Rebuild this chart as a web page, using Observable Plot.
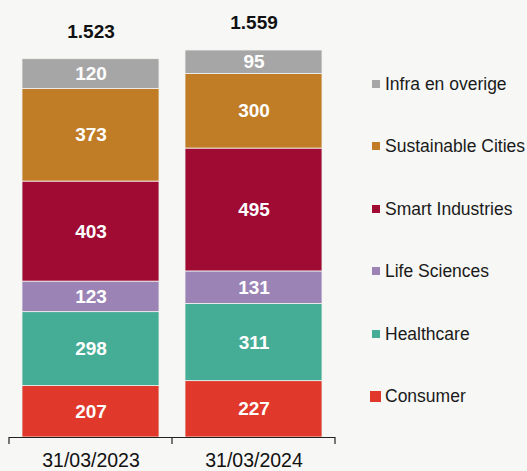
<!DOCTYPE html>
<html><head><meta charset="utf-8">
<script src="https://cdn.jsdelivr.net/npm/d3@7"></script>
<script src="https://cdn.jsdelivr.net/npm/@observablehq/plot@0.6"></script>
<style>
html,body{margin:0;padding:0;background:#f7f7f5;}
#wrap{position:relative;width:527px;height:471px;font-family:"Liberation Sans",Arial,sans-serif;}
#legend{position:absolute;left:370px;top:72px;}
.item{height:62.4px;display:flex;align-items:flex-start;font-size:17.5px;color:#1a1a1a;line-height:24px;}
.sw{width:8px;height:8px;margin:8px 5px 0 2px;flex:none;}
.sw.big{width:11px;height:11px;margin:7px 4px 0 0;}
</style></head>
<body><div id="wrap"><div id="chart"></div><div id="legend"></div></div>
<script>
const dates = ["31/03/2023", "31/03/2024"];
const segments = ["Consumer", "Healthcare", "Life Sciences", "Smart Industries", "Sustainable Cities", "Infra en overige"];
const colors = ["#e0382a", "#45ad96", "#9b84b5", "#a00b34", "#c07d26", "#a6a6a6"];
const values2023 = [207, 298, 123, 403, 373, 120];
const values2024 = [227, 311, 131, 495, 300, 95];
const totals = [1523, 1559];

const rows = [];
segments.forEach((s, i) => {
  rows.push({date: dates[0], segment: s, value: values2023[i]});
  rows.push({date: dates[1], segment: s, value: values2024[i]});
});
const totalRows = dates.map((d, i) => ({date: d, total: totals[i]}));
const fmtTotal = v => d3.format(",")(v).replace(/,/g, ".");

function axisFrame(index, scales) {
  const x = scales.x, y = scales.y;
  const bw = typeof x.bandwidth === "function" ? x.bandwidth() : x.bandwidth;
  const step = x(dates[1]) - x(dates[0]);
  const gap = step - bw;
  const y0 = y(0);
  const xs = dates.map(d => x(d) - gap / 2);
  xs.push(x(dates[dates.length - 1]) + bw + gap / 2);
  const g = d3.create("svg:g").attr("stroke", "#222").attr("stroke-width", 1.2);
  g.append("line").attr("x1", xs[0]).attr("x2", xs[xs.length - 1]).attr("y1", y0 + 0.5).attr("y2", y0 + 0.5);
  xs.forEach(v => g.append("line").attr("x1", v).attr("x2", v).attr("y1", y0).attr("y2", y0 + 7));
  return g.node();
}

const chart = Plot.plot({
  width: 527,
  height: 471,
  marginLeft: 9,
  marginRight: 192,
  marginTop: 50,
  marginBottom: 34,
  style: {background: "#f7f7f5", fontFamily: "Liberation Sans, Arial, sans-serif"},
  x: {domain: dates, paddingInner: 0.16, paddingOuter: 0.08, label: null},
  y: {domain: [0, 1559], axis: null},
  color: {domain: segments, range: colors},
  marks: [
    Plot.barY(rows, {x: "date", y: "value", fill: "segment", stroke: "#f3f3f0", strokeWidth: 0.8}),
    Plot.text(rows, Plot.stackY({x: "date", y: "value", text: "value", fill: "white", fontWeight: "bold", fontSize: 19})),
    Plot.text(totalRows, {x: "date", y: "total", text: d => fmtTotal(d.total), dy: -28, fill: "#111", fontWeight: "bold", fontSize: 19}),
    Plot.axisX({tickSize: 0, tickPadding: 16, fontSize: 19.5, color: "#111", label: null}),
    axisFrame
  ]
});
document.getElementById("chart").append(chart);

const legend = document.getElementById("legend");
segments.slice().reverse().forEach((s) => {
  const i = segments.indexOf(s);
  const item = document.createElement("div");
  item.className = "item";
  const sw = document.createElement("span");
  sw.className = "sw" + (s === "Consumer" ? " big" : "");
  sw.style.background = colors[i];
  const t = document.createElement("span");
  t.textContent = s;
  item.append(sw, t);
  legend.append(item);
});
</script></body></html>
